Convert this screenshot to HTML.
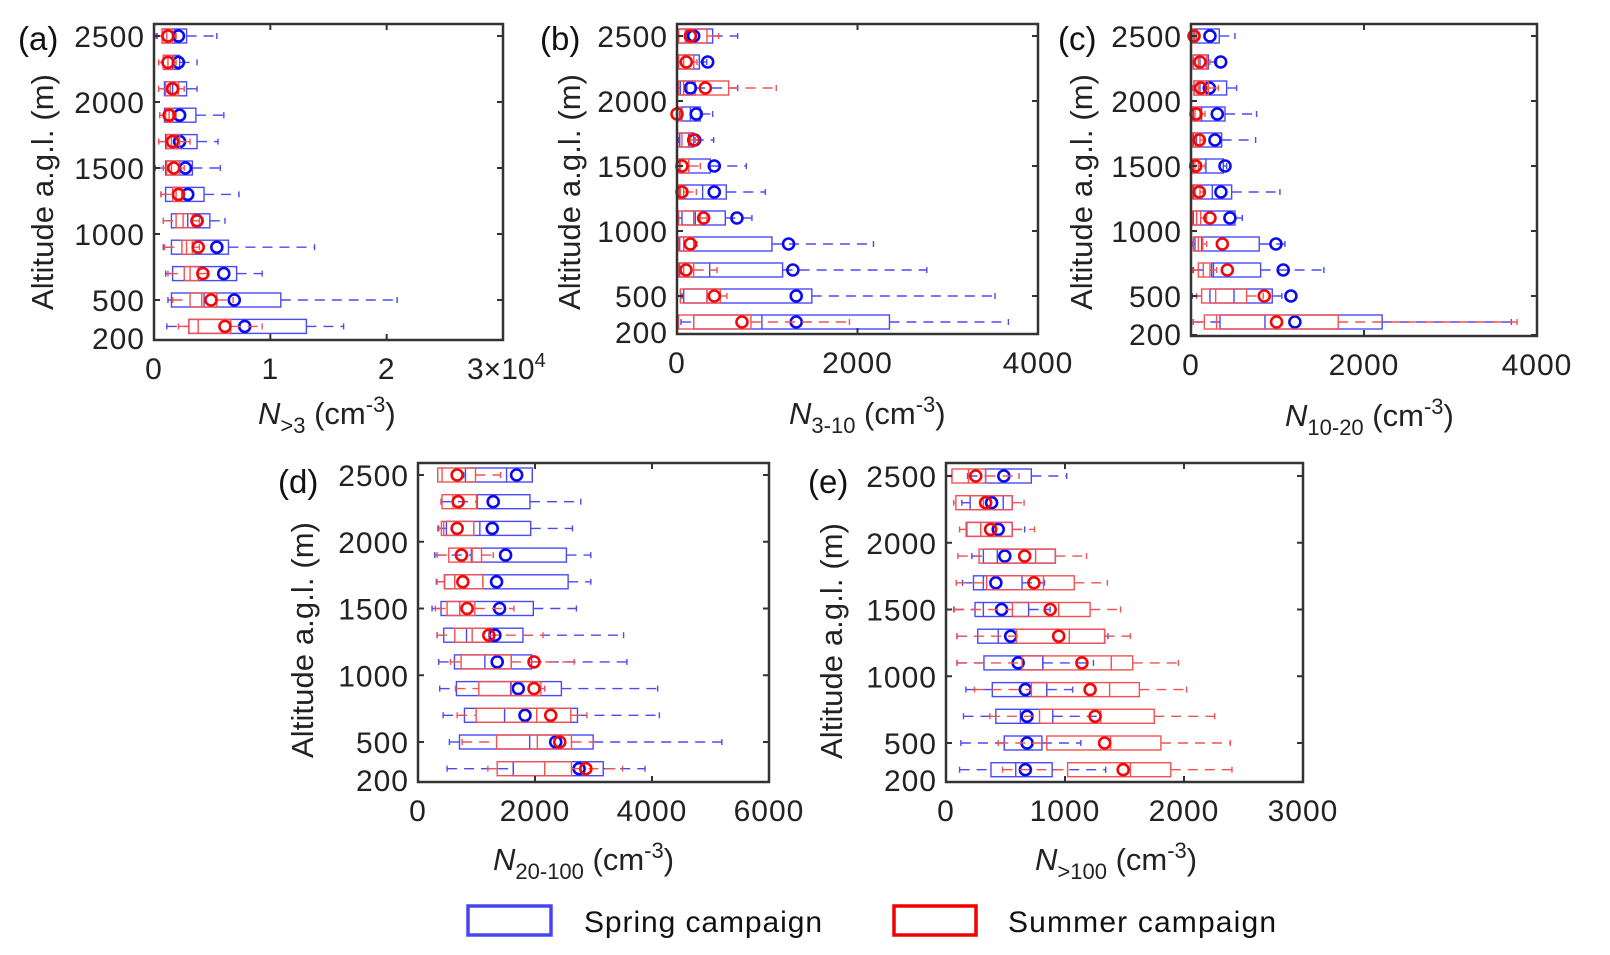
<!DOCTYPE html>
<html><head><meta charset="utf-8"><style>
html,body{margin:0;padding:0;background:#fff;}
svg{display:block;font-family:"Liberation Sans",Arial,sans-serif;}
</style></head><body>
<svg id="fig" width="1610" height="955" viewBox="0 0 1610 955">
<g id="legend">
 <rect x="468" y="906" width="83" height="29" fill="none" stroke="#4646f0" stroke-width="3.5"/>
 <text x="584" y="932" font-size="30" textLength="238" fill="#111">Spring campaign</text>
 <rect x="894" y="906" width="82" height="29" fill="none" stroke="#f00000" stroke-width="3.5"/>
 <text x="1008" y="932" font-size="30" textLength="268" fill="#111">Summer campaign</text>
</g>
</svg>
<script>
const alts=[2500,2300,2100,1900,1700,1500,1300,1100,900,700,500,300];
const yTicks=[200,500,1000,1500,2000,2500];
// rows: [lo, q1, median, q3, hi, mean]
const aSpring=[[.02,.07,.18,.28,.54,.21],[.04,.08,.16,.22,.37,.21],[.04,.09,.16,.28,.37,.16],[.05,.09,.16,.36,.60,.22],[.04,.10,.18,.37,.55,.22],[.01,.10,.22,.33,.57,.27],[.06,.10,.24,.43,.73,.29],[.08,.15,.29,.48,.61,.37],[.08,.15,.33,.64,1.38,.54],[.10,.16,.38,.71,.93,.60],[.12,.15,.43,1.09,2.09,.69],[.11,.30,.66,1.31,1.63,.78]];
const aSummer=[[.03,.07,.11,.16,.19,.12],[.04,.08,.12,.17,.19,.12],[.04,.10,.14,.21,.26,.16],[.05,.10,.13,.16,.19,.13],[.04,.11,.15,.22,.31,.16],[.08,.11,.15,.22,.26,.17],[.06,.16,.19,.24,.26,.21],[.08,.19,.25,.33,.39,.37],[.09,.24,.28,.33,.39,.38],[.12,.26,.31,.38,.46,.42],[.16,.31,.41,.54,.68,.49],[.21,.30,.38,.66,.93,.61]];
const bSpring=[[18,18,110,395,672,185],[7,18,185,247,330,340],[7,37,110,200,672,148],[30,55,148,258,395,214],[18,30,129,185,406,196],[7,30,129,369,768,413],[7,30,284,546,978,413],[18,55,203,535,830,664],[7,30,74,1052,2177,1236],[7,30,362,1170,2768,1284],[55,74,332,1494,3524,1321],[44,185,941,2354,3672,1321]];
const bSummer=[[7,18,92,332,461,148],[7,18,74,185,221,103],[7,18,74,572,1100,314],[0,0,7,37,55,0],[0,7,55,148,203,185],[0,7,37,129,258,55],[0,18,37,74,214,55],[0,18,185,258,332,295],[0,18,74,185,221,148],[0,18,74,185,443,100],[0,37,332,480,553,413],[0,18,185,819,1911,720]];
const cSpring=[[8,35,65,327,508,219],[15,27,104,200,296,343],[27,35,104,412,527,212],[15,27,123,393,758,304],[15,27,65,354,747,277],[15,27,173,373,412,393],[15,27,246,470,1028,346],[15,27,65,508,593,450],[27,46,123,789,1086,982],[27,239,260,805,1536,1066],[15,219,497,939,1050,1155],[27,335,855,2210,3704,1201]];
const cSummer=[[0,8,27,46,65,35],[15,27,85,181,219,104],[15,35,85,200,316,112],[8,15,46,104,162,58],[8,15,54,104,142,96],[8,15,46,85,162,54],[8,15,46,104,142,96],[8,15,65,112,181,219],[15,27,85,135,181,362],[15,85,142,219,296,420],[65,123,285,643,835,847],[27,154,296,1702,3769,989]];
const dSpring=[[780,811,1514,1954,1954,1686],[394,1011,1011,1914,2783,1286],[354,486,1057,1926,2640,1269],[286,914,914,2537,2954,1497],[314,451,629,2566,2954,1343],[240,394,714,1971,2708,1394],[326,440,829,1794,3514,1314],[354,623,1143,1943,3571,1354],[371,657,1583,2451,4097,1714],[429,794,1480,2726,4126,1829],[537,709,1909,2994,5194,2354],[497,1629,1629,3166,3880,2754]];
const dSummer=[[337,337,411,983,1411,669],[394,411,600,1000,1000,686],[337,400,440,954,954,669],[326,526,926,1086,1286,743],[326,457,629,1109,1109,766],[297,497,714,971,1640,840],[326,629,926,1211,2137,1211],[554,737,1594,1594,2669,1983],[640,1040,1594,2100,2166,1983],[669,994,2029,2611,2886,2269],[754,1343,2040,2623,3000,2423],[1194,1354,2166,2623,3497,2869]];
const eSpring=[[181,333,333,717,1014,486],[133,203,481,556,556,383],[175,175,292,556,661,439],[217,314,431,919,919,494],[139,231,314,639,828,419],[64,244,314,694,875,467],[92,267,439,1333,1361,544],[92,319,814,814,1239,606],[167,389,847,847,1064,667],[147,419,625,897,1300,681],[125,489,489,806,1133,681],[114,378,586,892,1342,667]];
const eSummer=[[50,50,189,333,614,250],[64,83,314,556,656,333],[114,169,292,556,744,375],[100,278,753,919,1181,661],[86,342,819,1078,1356,739],[69,558,947,1211,1467,875],[92,592,1036,1333,1550,947],[92,639,1389,1569,1953,1142],[239,717,1375,1625,2022,1211],[369,786,1300,1750,2258,1253],[439,847,1383,1806,2389,1333],[475,1022,1550,1889,2403,1489]];
const aTicks=[0,1,2,3], bTicks=[0,2000,4000], cTicks=[0,2000,4000], dTicks=[0,2000,4000,6000], eTicks=[0,1000,2000,3000];

const NS='http://www.w3.org/2000/svg';
const svg=document.getElementById('fig');
function mk(tag,attrs,parent){const e=document.createElementNS(NS,tag);for(const k in attrs)e.setAttribute(k,attrs[k]);(parent||svg).appendChild(e);return e;}

const panels=[
 {id:'a',left:154,right:503,top:24,bottom:340,xmax:3,y2500:36,y500:300,xt:aTicks,sp:aSpring,su:aSummer,sub:'>3',tx:258,ty:424,yl:43,ylc:192,lx:18,ly:50},
 {id:'b',left:677,right:1038,top:24,bottom:334,xmax:4000,y2500:36,y500:296,xt:bTicks,sp:bSpring,su:bSummer,sub:'3-10',tx:789,ty:424,yl:570,ylc:192,lx:540,ly:50},
 {id:'c',left:1191,right:1537,top:24,bottom:336,xmax:4000,y2500:36,y500:296,xt:cTicks,sp:cSpring,su:cSummer,sub:'10-20',tx:1285,ty:426,yl:1082,ylc:192,lx:1058,ly:50},
 {id:'d',left:418,right:769,top:463,bottom:782,xmax:6000,y2500:475,y500:742,xt:dTicks,sp:dSpring,su:dSummer,sub:'20-100',tx:493,ty:870,yl:303,ylc:640,lx:278,ly:493},
 {id:'e',left:946,right:1303,top:463,bottom:782,xmax:3000,y2500:476,y500:743,xt:eTicks,sp:eSpring,su:eSummer,sub:'>100',tx:1035,ty:870,yl:832,ylc:641,lx:808,ly:493}
];

panels.forEach(p=>{
 const g=mk('g',{});
 
 
 const xOf=v=>p.left+v/p.xmax*(p.right-p.left);
 const yOf=a=>p.y2500+(2500-a)*(p.y500-p.y2500)/2000;
 function series(rows,stroke,mcol,name){
  const sg=mk('g',{},g);
  
  
  rows.forEach((r,i)=>{
   const y=yOf(alts[i]);const h=7;
   const bg=mk('g',{stroke:stroke,'stroke-width':1.4,fill:'none'},sg);
   
   
   mk('line',{x1:xOf(r[0]),x2:xOf(r[1]),y1:y,y2:y,'stroke-dasharray':'10,7'},bg);
   mk('line',{x1:xOf(r[3]),x2:xOf(r[4]),y1:y,y2:y,'stroke-dasharray':'10,7'},bg);
   mk('line',{x1:xOf(r[0]),x2:xOf(r[0]),y1:y-3,y2:y+3},bg);
   mk('line',{x1:xOf(r[4]),x2:xOf(r[4]),y1:y-3,y2:y+3},bg);
   mk('rect',{x:xOf(r[1]),y:y-h,width:Math.max(0.5,xOf(r[3])-xOf(r[1])),height:2*h},bg);
   mk('line',{x1:xOf(r[2]),x2:xOf(r[2]),y1:y-h,y2:y+h},bg);
   const c=mk('circle',{cx:xOf(r[5]),cy:y,r:5.5,fill:'none',stroke:mcol,'stroke-width':2.6},sg);
   
   
  });
 }
 series(p.sp,'#4a4af5','#0a0aee','spring');
 series(p.su,'#f25252','#ee0a0a','summer');
 const fr=mk('rect',{x:p.left,y:p.top,width:p.right-p.left,height:p.bottom-p.top,fill:'none',stroke:'#333','stroke-width':2.5},g);
 
 
 yTicks.forEach(t=>{
  const y=yOf(t);
  if(y<=p.bottom-1){mk('line',{x1:p.left,x2:p.left+6,y1:y,y2:y,stroke:'#333','stroke-width':2},g);mk('line',{x1:p.right,x2:p.right-6,y1:y,y2:y,stroke:'#333','stroke-width':2},g);}
  const tl=mk('text',{x:p.left-9,y:Math.min(y,p.bottom-2)+11,'text-anchor':'end','font-size':30,'letter-spacing':1,fill:'#222'},g);
  tl.textContent=t;
  
  
 });
 p.xt.forEach((t,i)=>{
  const x=xOf(t);
  if(i>0&&i<p.xt.length-1){mk('line',{x1:x,x2:x,y1:p.bottom,y2:p.bottom-6,stroke:'#333','stroke-width':2},g);mk('line',{x1:x,x2:x,y1:p.top,y2:p.top+6,stroke:'#333','stroke-width':2},g);}
  let tl;
  if(p.id==='a'&&i===p.xt.length-1){
   tl=mk('text',{x:x-36,y:p.bottom+39,'font-size':30,fill:'#222'},g);
   tl.textContent=t+'×10';
   const s=mk('tspan',{dy:-12,'font-size':20},tl);s.textContent='4';
  } else {
   tl=mk('text',{x:x,y:p.bottom+39,'text-anchor':'middle','font-size':30,'letter-spacing':1,fill:'#222'},g);
   tl.textContent=t;
  }
  
  
 });
 const xt=mk('text',{x:p.tx,y:p.ty,'font-size':31,fill:'#222'},g);
 
 
 const n=mk('tspan',{'font-style':'italic'},xt);n.textContent='N';
 const sb=mk('tspan',{dy:9,'font-size':22},xt);sb.textContent=p.sub;
 const u=mk('tspan',{dy:-9},xt);u.textContent=' (cm';
 const sp=mk('tspan',{dy:-12,'font-size':22},xt);sp.textContent='-3';
 const cl=mk('tspan',{dy:12},xt);cl.textContent=')';
 const yt=mk('text',{x:p.yl,y:p.ylc,'text-anchor':'middle','font-size':31,fill:'#222',transform:'rotate(-90 '+p.yl+' '+p.ylc+')',dy:10,textLength:236},g);
 yt.textContent='Altitude a.g.l. (m)';
 
 
 const pl=mk('text',{x:p.lx,y:p.ly,'font-size':33,fill:'#111'},g);
 pl.textContent='('+p.id+')';
 
 
});
</script>
</body></html>
